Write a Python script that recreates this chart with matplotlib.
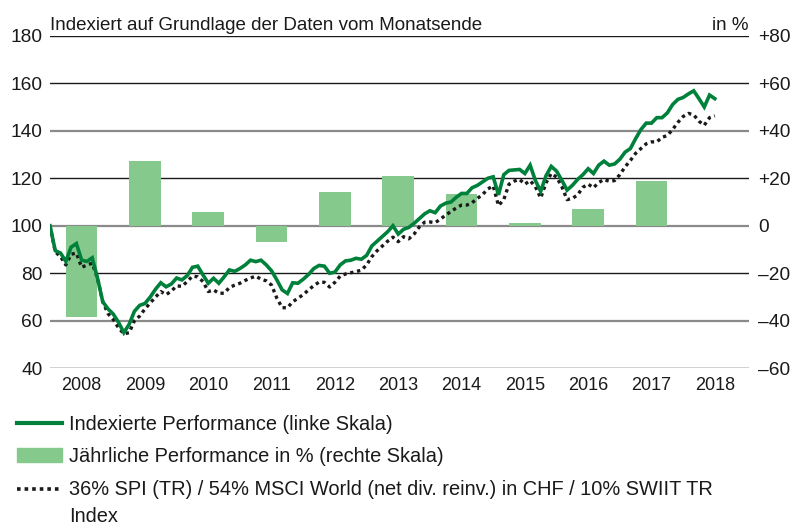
import numpy as np
import matplotlib
matplotlib.use("Agg")
import matplotlib.pyplot as plt
from matplotlib.lines import Line2D
from matplotlib.patches import Rectangle

plt.rcParams["font.family"] = ["Liberation Sans", "DejaVu Sans"]

# Monatsendwerte, indexiert (Dez 2007 = 100)
portfolio = [
    100, 89.5, 88.5, 85, 91, 92.5, 85.5, 85, 86.5, 78, 68, 65,
    62.8, 59.3, 55, 58.5, 64, 66.5, 67.3, 70, 73.3, 76, 74.3, 75.5,
    78, 77.2, 79, 82.5, 83, 79.3, 75.8, 77.9, 75.8, 78.5, 81.4, 80.8,
    82, 83.5, 85.5, 84.9, 85.5, 83.5, 81, 77.2, 73, 71.5, 76, 75.8,
    77.5, 79.5, 82, 83.3, 83, 80, 80.5, 83.5, 85.2, 85.5, 86.3, 85.9,
    87.5, 91.5, 93.5, 95.5, 97.5, 100, 96.5, 98.5, 99.3, 101, 103, 105,
    106.3, 105.5, 108.3, 109.5, 110, 112, 113.6, 113.6, 116, 117, 118.5, 120,
    120.6, 113, 121.5, 123.3, 123.5, 123.7, 122, 125.5, 119, 114.5, 121, 125,
    123, 119.2, 115, 117, 119.5, 121.5, 124, 122, 125.5, 127.2, 125.5, 126,
    128, 131, 132.5, 136.7, 140.5, 143.2, 143.2, 145.5, 145.5, 147.5, 151, 153.2,
    154, 155.5, 156.8, 153.5, 150, 155, 153.5,
]
benchmark = [
    100, 89, 87, 83.5, 88, 88.5, 82.5, 83.5, 84.2, 78, 68, 63,
    60.5, 57, 54.5, 55, 60, 62, 65, 67.5, 70, 72.3, 71, 72.5,
    74.7, 74.5, 76.5, 78.8, 78.5, 76.5, 72.3, 73, 71.6, 71.6, 74, 75,
    75.8, 77, 78, 78.8, 77.5, 76.8, 75, 69.5, 65.5, 65.5, 68, 69.5,
    71, 73, 74.8, 76.3, 76.2, 74.2, 76.2, 78.8, 79.7, 80.2, 80.7, 81.3,
    83.5, 87, 89.5, 91.5, 93.5, 95.2, 93.3, 95.4, 94.5, 96.5, 99.5, 101.5,
    101.6, 101.3, 102.8, 104.5, 106, 107.5, 108.7, 108.7, 109.7, 111.5, 113.2, 115.5,
    116.8, 108.5, 111, 117.5, 118.8, 119.5, 117.5, 119, 116.4, 111.7, 118, 122,
    120.5, 116.5, 111, 111.5, 113, 116.2, 117.5, 116, 118.2, 119.5, 118.7, 119,
    121.5, 124.8, 127.5, 130.5, 132.5, 134.5, 135.3, 135.3, 137.2, 138, 140.5, 143.5,
    146, 147.3, 146.7, 144, 142.3, 145.5, 146.3,
]

years = [2008, 2009, 2010, 2011, 2012, 2013, 2014, 2015, 2016, 2017]
annual_pct = [-38.5, 27.2, 5.6, -7.0, 14.3, 21.0, 13.2, 1.3, 6.9, 18.9]
year_labels = ["2008", "2009", "2010", "2011", "2012", "2013", "2014",
               "2015", "2016", "2017", "2018"]

left_ticks = [40, 60, 80, 100, 120, 140, 160, 180]
right_ticks = [-60, -40, -20, 0, 20, 40, 60, 80]
right_labels = ["\u201360", "\u201340", "\u201320", "0", "+20", "+40", "+60", "+80"]

GREEN = "#00813B"
BAR = "#85C98C"
INK = "#1a1a1a"

fig = plt.figure(figsize=(7.92, 5.27), dpi=100)
ax = fig.add_axes([50 / 792, 1 - 368.3 / 527, 699 / 792, 332.6 / 527])
ax2 = ax.twinx()
ax.set_zorder(ax2.get_zorder() + 1)
ax.patch.set_visible(False)

# gridlines + bars on the right-hand axis
for v in right_ticks:
    if v in (40, 0, -40):
        ax2.axhline(v, color="#8a8a8a", lw=1.6, zorder=0)
    else:
        ax2.axhline(v, color=INK, lw=1.0, zorder=0)
ax2.bar(np.array(years) + 0.5, annual_pct, width=0.5, color=BAR, zorder=2)

x = 2008 + np.arange(len(portfolio)) / 12
ax.plot(x, benchmark, color=INK, lw=2.4, linestyle=(0, (1, 1.1)), zorder=3)
ax.plot(x, portfolio, color=GREEN, lw=2.6, zorder=4, solid_joinstyle="miter")

ax.set_xlim(2008, 2019.04)
ax.set_ylim(40, 180)
ax2.set_ylim(-60, 80)

ax.set_yticks(left_ticks)
ax.set_yticklabels([str(t) for t in left_ticks])
ax2.set_yticks(right_ticks)
ax2.set_yticklabels(right_labels)
ax.set_xticks(np.arange(2008, 2019) + 0.5)
ax.set_xticklabels(year_labels)

for a in (ax, ax2):
    for s in a.spines.values():
        s.set_visible(False)
    a.tick_params(length=0, labelsize=13.8, colors=INK)
ax.tick_params(axis="y", pad=5.5)
ax2.tick_params(axis="y", pad=6.3)
ax.tick_params(axis="x", labelsize=13, pad=6)

fig.text(50 / 792, 1 - 30 / 527, "Indexiert auf Grundlage der Daten vom Monatsende",
         fontsize=13.5, color=INK, ha="left", va="baseline")
fig.text(748 / 792, 1 - 30 / 527, "in %", fontsize=13.5, color=INK,
         ha="right", va="baseline")


# legend drawn by hand
def fy(y):
    return 1 - y / 527


fig.add_artist(Line2D([17 / 792, 62 / 792], [fy(423), fy(423)], color=GREEN, lw=3))
fig.add_artist(Rectangle((17 / 792, fy(462)), 45 / 792, 14 / 527, color=BAR))
fig.add_artist(Line2D([17 / 792, 62 / 792], [fy(489), fy(489)], color=INK,
                      lw=2.6, linestyle=(0, (1, 1.1))))
legend_rows = [
    (430, "Indexierte Performance (linke Skala)"),
    (462, "J\u00e4hrliche Performance in % (rechte Skala)"),
    (495, "36% SPI (TR) / 54% MSCI World (net div. reinv.) in CHF / 10% SWIIT TR"),
    (522, "Index"),
]
for yy, txt in legend_rows:
    fig.text(69 / 792, fy(yy), txt, fontsize=14.4, color=INK, ha="left", va="baseline")

fig.savefig("out.png", dpi=100)
